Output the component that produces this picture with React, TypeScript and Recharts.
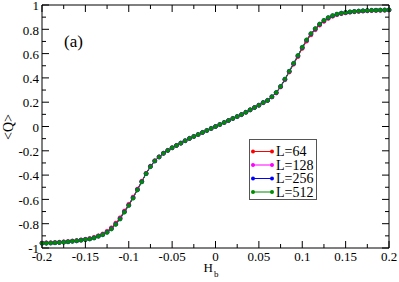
import React from "react";
import {
  LineChart,
  Line,
  XAxis,
  YAxis,
  ReferenceArea,
  Legend,
} from "recharts";

const H_VALUES = [
  -0.2, -0.195, -0.19, -0.185, -0.18, -0.175, -0.17, -0.165, -0.16, -0.155,
  -0.15, -0.145, -0.14, -0.135, -0.13, -0.125, -0.12, -0.115, -0.11, -0.105,
  -0.1, -0.095, -0.09, -0.085, -0.08, -0.075, -0.07, -0.065, -0.06, -0.055,
  -0.05, -0.045, -0.04, -0.035, -0.03, -0.025, -0.02, -0.015, -0.01, -0.005,
  0,
  0.005, 0.01, 0.015, 0.02, 0.025, 0.03, 0.035, 0.04, 0.045, 0.05,
  0.055, 0.06, 0.065, 0.07, 0.075, 0.08, 0.085, 0.09, 0.095, 0.1,
  0.105, 0.11, 0.115, 0.12, 0.125, 0.13, 0.135, 0.14, 0.145, 0.15,
  0.155, 0.16, 0.165, 0.17, 0.175, 0.18, 0.185, 0.19, 0.195, 0.2,
];

const Q_L64 = [
  -0.958, -0.957, -0.956, -0.954, -0.952, -0.949, -0.946, -0.942, -0.938, -0.933,
  -0.928, -0.921, -0.912, -0.899, -0.884, -0.862, -0.833, -0.795, -0.75, -0.695,
  -0.64, -0.58, -0.515, -0.45, -0.385, -0.326, -0.281, -0.249, -0.22, -0.196,
  -0.175, -0.156, -0.137, -0.117, -0.098, -0.082, -0.066, -0.049, -0.033, -0.016,
  0,
  0.016, 0.033, 0.049, 0.066, 0.082, 0.098, 0.117, 0.137, 0.156, 0.175,
  0.196, 0.214, 0.243, 0.276, 0.325, 0.384, 0.448, 0.512, 0.575, 0.642,
  0.702, 0.754, 0.796, 0.834, 0.865, 0.889, 0.907, 0.92, 0.929, 0.935,
  0.94, 0.944, 0.947, 0.95, 0.952, 0.954, 0.955, 0.956, 0.957, 0.958,
];

const Q_L128 = [
  -0.96, -0.959, -0.958, -0.956, -0.954, -0.951, -0.948, -0.944, -0.94, -0.935,
  -0.93, -0.924, -0.915, -0.902, -0.888, -0.867, -0.839, -0.801, -0.756, -0.7,
  -0.646, -0.585, -0.519, -0.453, -0.387, -0.329, -0.283, -0.25, -0.221, -0.197,
  -0.175, -0.156, -0.137, -0.117, -0.098, -0.082, -0.066, -0.049, -0.033, -0.016,
  0,
  0.016, 0.033, 0.049, 0.066, 0.082, 0.098, 0.117, 0.137, 0.156, 0.175,
  0.197, 0.215, 0.244, 0.278, 0.328, 0.387, 0.452, 0.516, 0.58, 0.648,
  0.708, 0.76, 0.801, 0.839, 0.87, 0.893, 0.91, 0.923, 0.931, 0.937,
  0.942, 0.946, 0.949, 0.951, 0.953, 0.955, 0.956, 0.957, 0.958, 0.959,
];

const Q_L256 = [
  -0.961, -0.96, -0.959, -0.957, -0.955, -0.952, -0.949, -0.945, -0.941, -0.936,
  -0.931, -0.925, -0.917, -0.903, -0.89, -0.87, -0.842, -0.804, -0.76, -0.703,
  -0.649, -0.588, -0.521, -0.455, -0.388, -0.33, -0.284, -0.251, -0.221, -0.197,
  -0.175, -0.156, -0.137, -0.117, -0.098, -0.082, -0.066, -0.049, -0.033, -0.016,
  0,
  0.016, 0.033, 0.049, 0.066, 0.082, 0.098, 0.117, 0.137, 0.156, 0.175,
  0.197, 0.215, 0.245, 0.279, 0.329, 0.389, 0.454, 0.519, 0.583, 0.651,
  0.711, 0.763, 0.804, 0.842, 0.872, 0.896, 0.912, 0.924, 0.932, 0.938,
  0.943, 0.947, 0.95, 0.952, 0.954, 0.956, 0.957, 0.958, 0.959, 0.96,
];

const Q_L512 = [
  -0.961, -0.96, -0.959, -0.957, -0.955, -0.952, -0.949, -0.945, -0.941, -0.936,
  -0.931, -0.926, -0.918, -0.904, -0.891, -0.872, -0.844, -0.806, -0.762, -0.705,
  -0.651, -0.59, -0.522, -0.456, -0.388, -0.331, -0.284, -0.251, -0.221, -0.197,
  -0.175, -0.156, -0.137, -0.117, -0.098, -0.082, -0.066, -0.049, -0.033, -0.016,
  0,
  0.016, 0.033, 0.049, 0.066, 0.082, 0.098, 0.117, 0.137, 0.156, 0.175,
  0.197, 0.215, 0.245, 0.28, 0.33, 0.39, 0.455, 0.52, 0.585, 0.653,
  0.713, 0.765, 0.806, 0.844, 0.874, 0.897, 0.913, 0.925, 0.933, 0.939,
  0.944, 0.947, 0.95, 0.952, 0.954, 0.956, 0.957, 0.958, 0.959, 0.96,
];

const X_MAJOR = [-0.2, -0.15, -0.1, -0.05, 0, 0.05, 0.1, 0.15, 0.2];
const X_MINOR = [-0.175, -0.125, -0.075, -0.025, 0.025, 0.075, 0.125, 0.175];
const Y_MAJOR = [-1, -0.8, -0.6, -0.4, -0.2, 0, 0.2, 0.4, 0.6, 0.8, 1];
const Y_MINOR = [-0.9, -0.7, -0.5, -0.3, -0.1, 0.1, 0.3, 0.5, 0.7, 0.9];

const SERIES = [
  { key: "q64", name: "L=64", color: "#ff0000" },
  { key: "q128", name: "L=128", color: "#ff00ff" },
  { key: "q256", name: "L=256", color: "#0000ff" },
  { key: "q512", name: "L=512", color: "#008b00" },
];

const data = H_VALUES.map((h, i) => ({
  h,
  q64: Q_L64[i],
  q128: Q_L128[i],
  q256: Q_L256[i],
  q512: Q_L512[i],
}));

// plot box (pixels) used by the inward tick marks
const PLOT_LEFT = 42;
const PLOT_RIGHT = 389;
const PLOT_TOP = 5;
const PLOT_BOTTOM = 248;

const FONT = "Liberation Serif, Times New Roman, Times, DejaVu Serif, serif";
const textStyle = { fontFamily: FONT };

function XTick(props: any) {
  const { x, payload } = props;
  const major = X_MAJOR.includes(payload.value);
  const len = major ? 7 : 4;
  return (
    <g>
      <line x1={x} x2={x} y1={PLOT_BOTTOM} y2={PLOT_BOTTOM - len} stroke="#000" />
      <line x1={x} x2={x} y1={PLOT_TOP} y2={PLOT_TOP + len} stroke="#000" />
      {major && (
        <text x={x} y={261} textAnchor="middle" style={textStyle} fontSize={13} fill="#000">
          {String(payload.value)}
        </text>
      )}
    </g>
  );
}

function YTick(props: any) {
  const { y, payload } = props;
  const major = Y_MAJOR.includes(payload.value);
  const len = major ? 7 : 4;
  return (
    <g>
      <line x1={PLOT_LEFT} x2={PLOT_LEFT + len} y1={y} y2={y} stroke="#000" />
      <line x1={PLOT_RIGHT} x2={PLOT_RIGHT - len} y1={y} y2={y} stroke="#000" />
      {major && (
        <text x={PLOT_LEFT - 3} y={y + 1} dy="0.33em" textAnchor="end" style={textStyle} fontSize={13} fill="#000">
          {String(payload.value)}
        </text>
      )}
    </g>
  );
}

function LegendBox() {
  return (
    <div
      style={{
        width: 68,
        height: 61,
        border: "1px solid #555",
        background: "#fff",
        boxSizing: "border-box",
      }}
    >
      <svg width={66} height={59}>
        {SERIES.map((s, i) => {
          const y = 11.5 + i * 13.5;
          return (
            <g key={s.key}>
              <line x1={3} x2={22} y1={y} y2={y} stroke={s.color} strokeWidth={1} />
              <circle cx={3} cy={y} r={2} fill={s.color} />
              <circle cx={22} cy={y} r={2} fill={s.color} />
              <text x={26} y={y} dy="0.35em" style={textStyle} fontSize={14} fill="#000">
                {s.name}
              </text>
            </g>
          );
        })}
      </svg>
    </div>
  );
}

export default function App() {
  return (
    <div style={{ position: "fixed", left: 0, top: 0, background: "#fff" }}>
      <LineChart
        width={399}
        height={282}
        data={data}
        margin={{ top: 5, right: 10, bottom: 0, left: 0 }}
      >
        <XAxis
          dataKey="h"
          type="number"
          domain={[-0.2, 0.2]}
          ticks={[...X_MAJOR, ...X_MINOR]}
          interval={0}
          height={34}
          axisLine={false}
          tickLine={false}
          tick={XTick}
          label={() => (
            <text x={211} y={272} style={textStyle} fontSize={13} fill="#000" textAnchor="middle">
              H
              <tspan fontSize={9} dx={1} dy={5}>
                b
              </tspan>
            </text>
          )}
        />
        <YAxis
          type="number"
          domain={[-1, 1]}
          ticks={[...Y_MAJOR, ...Y_MINOR]}
          interval={0}
          width={42}
          axisLine={false}
          tickLine={false}
          tick={YTick}
          label={() => (
            <text
              x={8}
              y={127}
              transform="rotate(-90 8 127)"
              textAnchor="middle"
              dy="0.35em"
              style={textStyle}
              fontSize={14}
              fill="#000"
            >
              {"<Q>"}
            </text>
          )}
        />
        <ReferenceArea
          x1={-0.2}
          x2={0.2}
          y1={-1}
          y2={1}
          fill="none"
          stroke="#000"
          strokeWidth={1}
          fillOpacity={0}
        />
        {SERIES.map((s) => (
          <Line
            key={s.key}
            dataKey={s.key}
            name={s.name}
            type="linear"
            stroke={s.color}
            strokeWidth={1}
            dot={{ r: 2, fill: s.color, stroke: s.color, strokeWidth: 0.5 }}
            isAnimationActive={false}
          />
        ))}
        <Legend
          layout="vertical"
          align="center"
          verticalAlign="middle"
          content={() => <LegendBox />}
          wrapperStyle={{ left: 249, top: 139, bottom: "auto", width: 68, height: 61 }}
        />
        <text x={64} y={47} style={textStyle} fontSize={17} fill="#000">
          (a)
        </text>
      </LineChart>
    </div>
  );
}
